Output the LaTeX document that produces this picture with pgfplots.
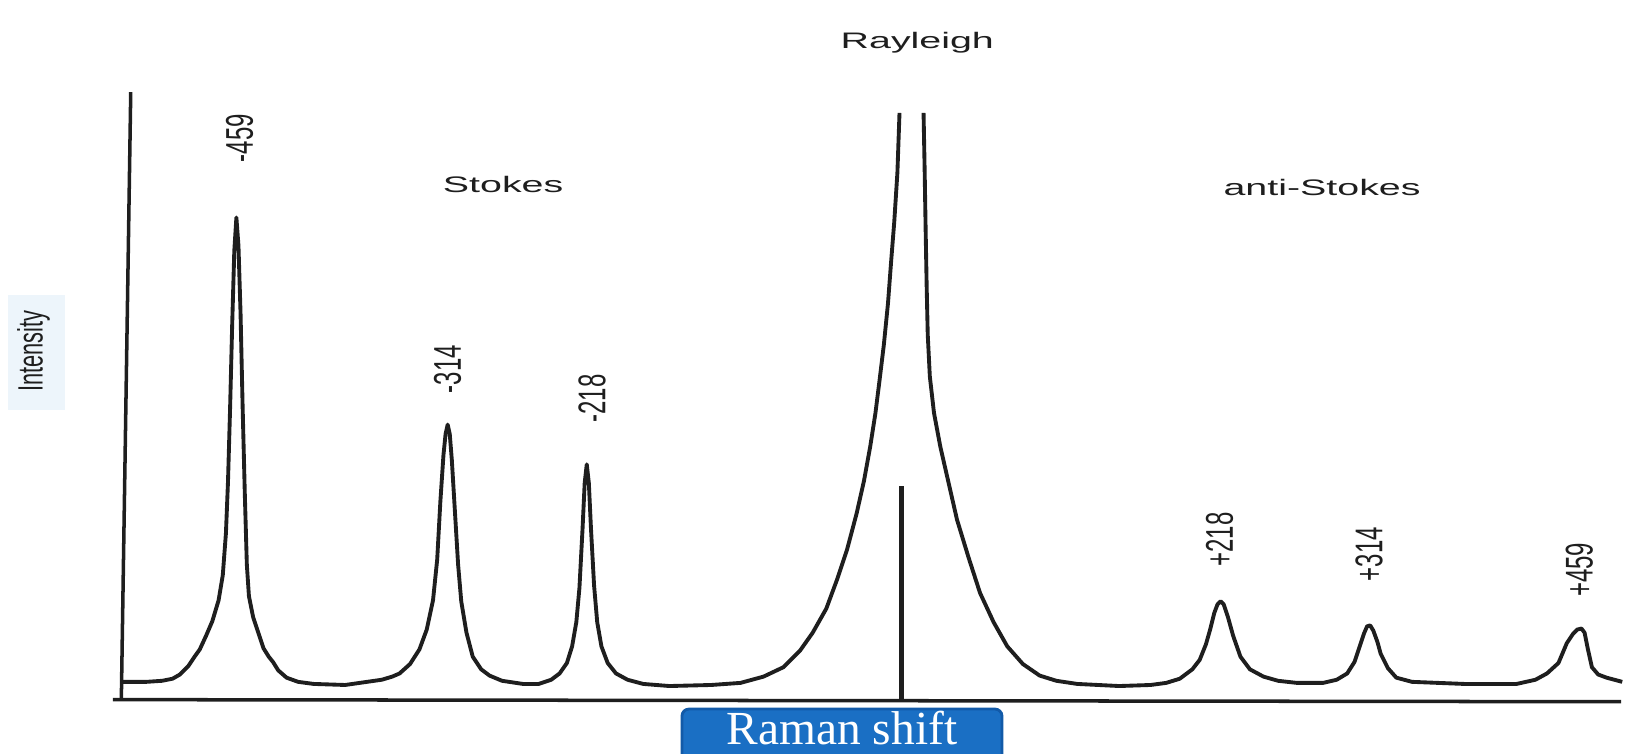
\documentclass[border=0pt]{standalone}
\usepackage{pgfplots}
\pgfplotsset{compat=1.18}
\usepackage{fontspec}
\setmainfont{Liberation Sans}
\newfontfamily\seriffont{Liberation Serif}
\definecolor{ink}{HTML}{1E1E1E}
\definecolor{boxblue}{HTML}{1A6FC4}
\definecolor{boxedge}{HTML}{125AA8}
\definecolor{faintblue}{HTML}{EDF5FB}
\newcommand{\hlab}[1]{\scalebox{1}[0.57]{\fontsize{11.2}{11}\selectfont #1}}
\newcommand{\vlab}[1]{\scalebox{0.62}[1]{\fontsize{11}{11}\selectfont #1}}
\begin{document}
\begin{tikzpicture}
\begin{axis}[name=ax, scale only axis, width=16.4cm, height=7.54cm,
  xmin=0, xmax=1568, ymin=0, ymax=721, y dir=reverse, hide axis, clip=false]
% faint background behind the y label
\fill[faintblue] (axis cs:8,282) rectangle (axis cs:62,392);
% axes
\addplot[ink, line width=1pt] coordinates {(125,88) (116,669)};
\addplot[ink, line width=1pt] coordinates {(108,669) (1550,671)};
% laser line
\addplot[ink, line width=1.2pt] coordinates {(862,465) (862,669)};
% spectrum, Stokes side up to the cut Rayleigh top
\addplot[ink, line width=1.1pt, line join=round] coordinates {
(115,652) (140,652) (155,651) (165,649) (172,645) (180,637) (186,628) (191,621)
(197,608) (203,594) (209,574) (213,550) (216,510) (218,460) (220,390) (222,310)
(224,240) (226,208) (228,235) (230,300) (232,390) (234,470) (236,540) (238,570)
(242,590) (247,605) (252,620) (257,628) (261,633) (266,641) (274,648) (285,652)
(300,654) (330,655) (351,652) (365,650) (375,647) (382,644) (392,635) (401,621)
(408,602) (414,574) (418,535) (421,480) (424,435) (426,415) (428,406) (430,415)
(432,440) (435,490) (438,540) (441,575) (446,605) (452,628) (460,640) (468,646)
(480,651) (500,654) (515,654) (527,650) (535,644) (542,634) (547,618) (551,595)
(554,562) (557,505) (559,462) (561,444) (563,462) (565,505) (568,560) (571,595)
(575,618) (581,634) (589,644) (600,650) (615,654) (640,656) (680,655) (708,653)
(730,647) (749,638) (765,622) (777,605) (790,582) (800,555) (810,525) (819,491)
(826,460) (832,427) (837,395) (841,363) (845,330) (849,290) (852,250) (855,212)
(858,165) (860,108)};
% spectrum, anti-Stokes side
\addplot[ink, line width=1.1pt, line join=round] coordinates {
(883,108) (884,160) (885,220) (886,275) (887,320) (889,360) (893,395) (899,427)
(907,462) (915,497) (926,533) (937,567) (950,595) (963,618) (978,635) (994,646)
(1010,651) (1030,654) (1070,656) (1100,655) (1115,653) (1128,649) (1140,640)
(1147,631) (1153,616) (1157,602) (1161,586) (1164,578) (1167,575) (1170,578)
(1174,590) (1179,608) (1186,628) (1195,640) (1208,647) (1222,651) (1240,653)
(1265,653) (1278,650) (1288,644) (1295,633) (1300,618) (1304,606) (1307,599)
(1310,598) (1313,603) (1317,614) (1320,625) (1327,639) (1335,648) (1350,652)
(1400,654) (1450,654) (1468,650) (1479,644) (1490,634) (1498,615) (1504,606)
(1508,602) (1512,601) (1515,605) (1518,620) (1522,638) (1528,645) (1536,648)
(1551,652)};
% texts
\node[text=ink] at (axis cs:877,41) {\hlab{Rayleigh}};
\node[text=ink] at (axis cs:481,176) {\hlab{Stokes}};
\node[text=ink] at (axis cs:1264,179) {\hlab{anti-Stokes}};
\node[text=ink, rotate=90] at (axis cs:229,132) {\vlab{-459}};
\node[text=ink, rotate=90] at (axis cs:428,353) {\vlab{-314}};
\node[text=ink, rotate=90] at (axis cs:566,381) {\vlab{-218}};
\node[text=ink, rotate=90] at (axis cs:1166,516) {\vlab{+218}};
\node[text=ink, rotate=90] at (axis cs:1309,530) {\vlab{+314}};
\node[text=ink, rotate=90] at (axis cs:1510,545) {\vlab{+459}};
\node[text=ink, rotate=90] at (axis cs:32,336) {\scalebox{0.62}[1]{\fontsize{10}{10}\selectfont Intensity}};
% x label box
\draw[boxedge, fill=boxblue, line width=0.8pt, rounded corners=2pt] (axis cs:652,678) rectangle (axis cs:958,745);
\node[anchor=base, text=white, inner sep=0pt, font=\seriffont\fontsize{13.5}{13.5}\selectfont] at (axis cs:805,712) {Raman shift};
\end{axis}
\pgfresetboundingbox
\path[use as bounding box] (ax.south west) rectangle (ax.north east);
\end{tikzpicture}
\end{document}
